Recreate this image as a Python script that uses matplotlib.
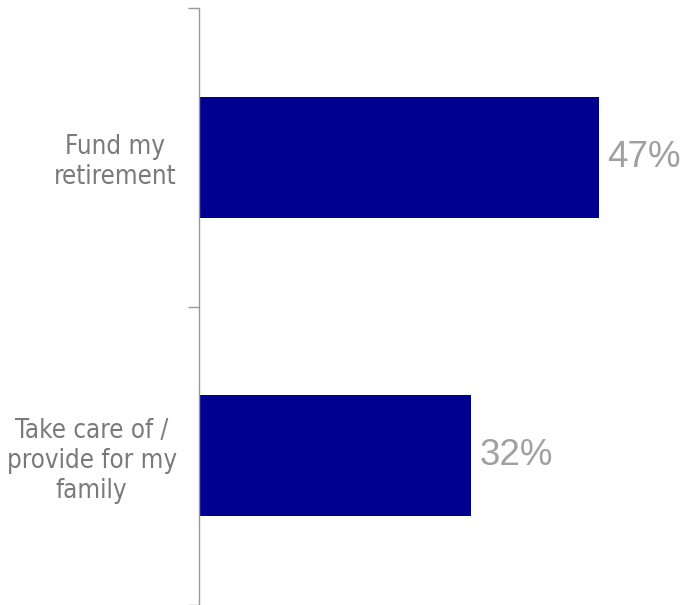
import numpy as np
import matplotlib.pyplot as plt

# survey results: share of respondents per goal
goals = ["Fund my\nretirement", "Take care of /\nprovide for my\nfamily"]
shares = [47, 32]

BAR_COLOR = "#000090"
LABEL_GREY = "#7a7a7a"
VALUE_GREY = "#a0a0a0"

fig = plt.figure(figsize=(6.86, 6.05), dpi=100)
ax = fig.add_axes([199 / 686, 0.0, 1 - 199 / 686, 1 - 8 / 605])

pos = np.arange(len(goals))
ax.barh(pos, shares, height=0.405, color=BAR_COLOR)
ax.set_ylim(len(goals) - 0.5, -0.5)
ax.set_xlim(0, 487 / (400 / 47))

for p, v in zip(pos, shares):
    ax.text(v + 0.95, p, f"{v}%", va="center", ha="left",
            fontsize=26.5, color=VALUE_GREY, family="Liberation Sans")

# category labels right of centre, tick marks on the boundaries
ax.set_yticks(pos)
ax.set_yticklabels(goals, fontsize=18.5, color=LABEL_GREY,
                   family="DejaVu Sans", fontstretch="condensed",
                   ha="right", multialignment="center", linespacing=1.2)
ax.tick_params(axis="y", which="major", length=0, pad=16)
ax.set_yticks(np.arange(-0.5, len(goals)), minor=True)
ax.tick_params(axis="y", which="minor", length=8, width=1, color="#999999")
ax.set_xticks([])

for s in ["top", "right", "bottom"]:
    ax.spines[s].set_visible(False)
ax.spines["left"].set_color("#999999")
ax.spines["left"].set_linewidth(1)

fig.savefig("out.png", dpi=100)
